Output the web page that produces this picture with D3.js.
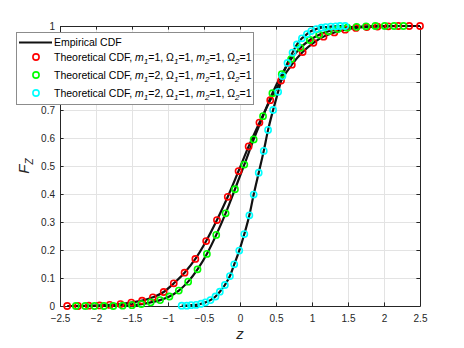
<!DOCTYPE html>
<html>
<head>
<meta charset="utf-8">
<style>
  body { margin: 0; background: #fff; }
  svg { font-family: Arial, "Liberation Sans", Helvetica, sans-serif; }
</style>
</head>
<body>
<svg id="chart" width="464" height="348"></svg>
<script src="https://d3js.org/d3.v7.min.js"></script>
<script>

// values
var redZ = [-2.40, -2.25, -2.10, -1.95, -1.81, -1.66, -1.51, -1.36, -1.21, -1.06, -0.92, -0.77,
            -0.62, -0.47, -0.32, -0.17, -0.02, 0.12, 0.27, 0.42, 0.57, 0.72, 0.87, 1.02, 1.16,
            1.31, 1.46, 1.61, 1.76, 1.91, 2.06, 2.20, 2.35, 2.50];
var redF = [0, 0, 0.001, 0.002, 0.004, 0.007, 0.012, 0.019, 0.031, 0.050, 0.081, 0.119,
            0.168, 0.232, 0.307, 0.390, 0.482, 0.570, 0.655, 0.735, 0.805, 0.862, 0.907, 0.940, 0.962,
            0.977, 0.987, 0.993, 0.996, 0.998, 0.999, 1, 1, 1];

var greenZ = [-2.28, -2.15, -2.02, -1.89, -1.76, -1.63, -1.50, -1.37, -1.24, -1.11, -0.98, -0.85,
              -0.72, -0.59, -0.46, -0.33, -0.20, -0.07, 0.06, 0.19, 0.32, 0.45, 0.58, 0.71, 0.84,
              0.97, 1.10, 1.23, 1.36, 1.49, 1.62, 1.75, 1.88, 2.01, 2.14, 2.27];
var greenF = [0, 0, 0, 0, 0, 0.001, 0.003, 0.007, 0.013, 0.021, 0.034, 0.055,
              0.087, 0.131, 0.186, 0.254, 0.331, 0.417, 0.505, 0.595, 0.678, 0.760, 0.828, 0.882, 0.922,
              0.950, 0.969, 0.981, 0.989, 0.994, 0.997, 0.999, 1, 1, 1, 1];

var cyanZ = [-0.81, -0.74, -0.68, -0.61, -0.54, -0.48, -0.41, -0.34, -0.28, -0.21, -0.14, -0.08,
             -0.01, 0.06, 0.13, 0.19, 0.26, 0.33, 0.39, 0.46, 0.53, 0.59, 0.66, 0.73, 0.79,
             0.86, 0.93, 0.99, 1.06, 1.13, 1.19, 1.26, 1.33, 1.39, 1.46];
var cyanF = [0.001, 0.001, 0.003, 0.004, 0.008, 0.013, 0.021, 0.034, 0.051, 0.075, 0.107, 0.149,
             0.198, 0.257, 0.324, 0.398, 0.476, 0.554, 0.629, 0.700, 0.765, 0.821, 0.868, 0.905, 0.934,
             0.956, 0.971, 0.982, 0.989, 0.994, 0.996, 0.998, 0.999, 1, 1];

var xTicks = [-2.5, -2, -1.5, -1, -0.5, 0, 0.5, 1, 1.5, 2, 2.5];
var yTicks = [0, 0.1, 0.2, 0.3, 0.4, 0.5, 0.6, 0.7, 0.8, 0.9, 1];

var series = [
  { z: redZ, f: redF, color: "#ff0000", m1: "1" },
  { z: greenZ, f: greenF, color: "#00ff00", m1: "2" },
  { z: cyanZ, f: cyanF, color: "#00ffff", m1: "2" }
];

var svg = d3.select("#chart");
var plotL = 60, plotR = 420, plotT = 26, plotB = 306;

var x = d3.scaleLinear().domain([-2.5, 2.5]).range([plotL, plotR]);
var y = d3.scaleLinear().domain([0, 1]).range([plotB, plotT]);

// grid
var grid = svg.append("g").attr("stroke", "#e3e3e3").attr("stroke-width", 1);
grid.selectAll(".gx").data(xTicks).enter().append("line")
    .attr("x1", function (d) { return Math.round(x(d)) + 0.5; })
    .attr("x2", function (d) { return Math.round(x(d)) + 0.5; })
    .attr("y1", plotT).attr("y2", plotB);
grid.selectAll(".gy").data(yTicks).enter().append("line")
    .attr("y1", function (d) { return Math.round(y(d)) + 0.5; })
    .attr("y2", function (d) { return Math.round(y(d)) + 0.5; })
    .attr("x1", plotL).attr("x2", plotR);

// axes, ticks inside like matlab
function styleAxis(g) {
  g.select(".domain").attr("stroke", "#262626");
  g.selectAll(".tick line").attr("stroke", "#262626");
  g.selectAll(".tick text").attr("fill", "#262626").style("font-size", "10px");
  g.attr("font-family", null);
}
var tl = 3.6;
svg.append("g").attr("transform", "translate(0," + plotB + ")")
    .call(d3.axisBottom(x).tickValues(xTicks).tickFormat(d3.format("")).tickSizeInner(-tl).tickSizeOuter(0).tickPadding(8.5))
    .call(styleAxis);
svg.append("g").attr("transform", "translate(0," + plotT + ")")
    .call(d3.axisTop(x).tickValues(xTicks).tickFormat("").tickSizeInner(-tl).tickSizeOuter(0))
    .call(styleAxis);
svg.append("g").attr("transform", "translate(" + plotL + ",0)")
    .call(d3.axisLeft(y).tickValues(yTicks).tickFormat(d3.format("")).tickSizeInner(-tl).tickSizeOuter(0).tickPadding(5))
    .call(styleAxis);
svg.append("g").attr("transform", "translate(" + plotR + ",0)")
    .call(d3.axisRight(y).tickValues(yTicks).tickFormat("").tickSizeInner(-tl).tickSizeOuter(0))
    .call(styleAxis);

// empirical cdf lines
var line = d3.line()
    .x(function (d) { return x(d[0]); })
    .y(function (d) { return y(d[1]); })
    .curve(d3.curveMonotoneX);

series.forEach(function (s) {
  svg.append("path")
      .datum(d3.zip(s.z, s.f))
      .attr("d", line)
      .attr("fill", "none")
      .attr("stroke", "#111")
      .attr("stroke-width", 2.2);
});

// theoretical markers
series.forEach(function (s) {
  svg.append("g").selectAll("circle")
      .data(d3.zip(s.z, s.f))
      .enter().append("circle")
      .attr("cx", function (d) { return x(d[0]); })
      .attr("cy", function (d) { return y(d[1]); })
      .attr("r", 3.1)
      .attr("fill", "none")
      .attr("stroke", s.color)
      .attr("stroke-width", 1.6);
});

// axis labels
svg.append("text")
    .attr("x", x(0)).attr("y", 339)
    .attr("text-anchor", "middle")
    .style("font-size", "15px").style("font-style", "italic")
    .attr("fill", "#262626")
    .text("z");

var yl = svg.append("text")
    .attr("transform", "translate(29," + y(0.5) + ") rotate(-90)")
    .attr("text-anchor", "middle")
    .style("font-size", "15px").style("font-style", "italic")
    .attr("fill", "#262626");
yl.append("tspan").text("F");
yl.append("tspan").attr("dy", 4).style("font-size", "10px").text("Z");

// legend
var leg = svg.append("g");
leg.append("rect")
    .attr("x", 16.5).attr("y", 32.5).attr("width", 237).attr("height", 72)
    .attr("fill", "#fff").attr("stroke", "#8c8c8c").attr("stroke-width", 1);

leg.append("line")
    .attr("x1", 19).attr("x2", 52).attr("y1", 42.5).attr("y2", 42.5)
    .attr("stroke", "#111").attr("stroke-width", 2.2);
leg.append("text").attr("x", 54).attr("y", 46)
    .style("font-size", "10.5px").attr("fill", "#000").text("Empirical CDF");

series.forEach(function (s, i) {
  var cy = 57 + i * 18;
  leg.append("circle")
      .attr("cx", 36).attr("cy", cy).attr("r", 3.1)
      .attr("fill", "none").attr("stroke", s.color).attr("stroke-width", 1.6);
  var t = leg.append("text").attr("x", 54).attr("y", cy + 3.5)
      .style("font-size", "10.5px").attr("fill", "#000");
  var parts = [
    ["Theoretical CDF, ", 0], ["m", 1], ["1", 2], ["=" + s.m1 + ", \u03a9", 0], ["1", 2],
    ["=1, ", 0], ["m", 1], ["2", 2], ["=1, \u03a9", 0], ["2", 2], ["=1", 0]
  ];
  var shifted = false;
  parts.forEach(function (p) {
    var ts = t.append("tspan").text(p[0]);
    if (p[1] === 1) ts.style("font-style", "italic");
    if (p[1] === 2) {
      ts.style("font-size", "8px").style("font-style", "italic").attr("dy", 3);
      shifted = true;
    } else if (shifted) {
      ts.attr("dy", -3);
      shifted = false;
    }
  });
});

</script>
</body>
</html>
